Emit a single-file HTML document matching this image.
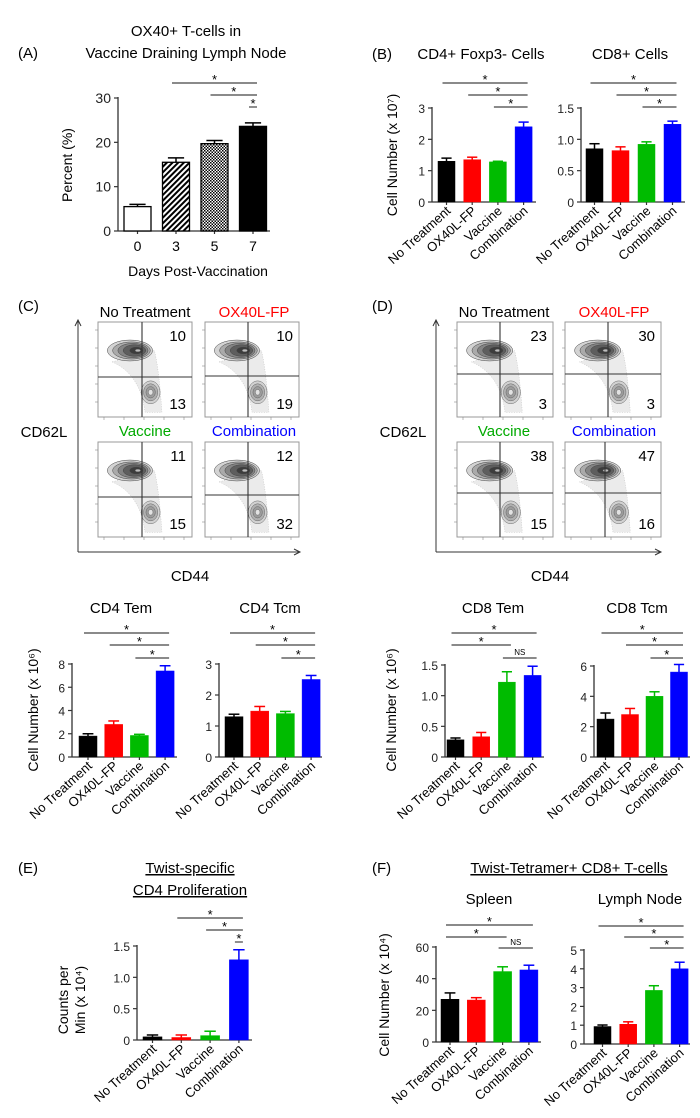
<!DOCTYPE html>
<html><head><meta charset="utf-8"><style>
html,body{margin:0;padding:0;background:#fff;}
svg{display:block;font-family:"Liberation Sans",sans-serif;}
</style></head><body>
<svg id="fig" width="700" height="1118" viewBox="0 0 700 1118" xmlns="http://www.w3.org/2000/svg">
<defs>
<pattern id="hatch" width="4" height="4" patternUnits="userSpaceOnUse" patternTransform="rotate(45)"><rect width="4" height="4" fill="#fff"/><rect width="2" height="4" fill="#000"/></pattern>
<pattern id="check" width="3" height="3" patternUnits="userSpaceOnUse"><rect width="3" height="3" fill="#fff"/><rect width="1.5" height="1.5" fill="#000"/><rect x="1.5" y="1.5" width="1.5" height="1.5" fill="#000"/></pattern>
</defs>
<g id="root"></g>
</svg>
<script>
// ---------- data ----------
const groups = ["No Treatment","OX40L-FP","Vaccine","Combination"];
const groupColors = ["#000","#f00","#0b0","#00f"];
const daysCats = ["0","3","5","7"];
const aVals = [5.5,15.5,19.7,23.6];
const aErr = [0.5,1.0,0.7,0.8];
const aTicks = [0,10,20,30];
const b1Vals = [1.3,1.35,1.28,2.4];
const b1Err = [0.1,0.08,0.02,0.15];
const b1Ticks = [0,1,2,3];
const b2Vals = [0.85,0.82,0.92,1.24];
const b2Err = [0.08,0.06,0.04,0.05];
const b2Ticks = [0,0.5,1.0,1.5];
const b2TickLabels = ["0","0.5","1.0","1.5"];
const cd4TemVals = [1.8,2.8,1.85,7.4];
const cd4TemErr = [0.2,0.3,0.1,0.45];
const cd4TemTicks = [0,2,4,6,8];
const cd4TcmVals = [1.3,1.48,1.4,2.5];
const cd4TcmErr = [0.08,0.15,0.07,0.13];
const cd4TcmTicks = [0,1,2,3];
const cd8TemVals = [0.28,0.33,1.22,1.33];
const cd8TemErr = [0.03,0.07,0.17,0.15];
const cd8TemTicks = [0,0.5,1.0,1.5];
const cd8TemTickLabels = ["0","0.5","1.0","1.5"];
const cd8TcmVals = [2.5,2.8,4.0,5.6];
const cd8TcmErr = [0.4,0.4,0.3,0.5];
const cd8TcmTicks = [0,2,4,6];
const eVals = [0.05,0.04,0.07,1.28];
const eErr = [0.03,0.04,0.07,0.16];
const eTicks = [0,0.5,1.0,1.5];
const eTickLabels = ["0","0.5","1.0","1.5"];
const spleenVals = [27,26.5,44.5,45.5];
const spleenErr = [4,1.5,3,3];
const spleenTicks = [0,20,40,60];
const lnVals = [0.93,1.05,2.85,4.0];
const lnErr = [0.08,0.13,0.25,0.35];
const lnTicks = [0,1,2,3,4,5];
const flowC = [["10","13"],["10","19"],["11","15"],["12","32"]];
const flowD = [["23","3"],["30","3"],["38","15"],["47","16"]];

// ---------- helpers ----------
const NS="http://www.w3.org/2000/svg";
const root=document.getElementById('root');
function el(tag,attrs,parent,text){
  const e=document.createElementNS(NS,tag);
  for(const k in attrs) e.setAttribute(k,attrs[k]);
  if(text!==undefined) e.textContent=text;
  (parent||root).appendChild(e);
  return e;
}
function txt(x,y,s,size,opts,name){
  const t=el('text',Object.assign({x:x,y:y,'font-size':size,fill:'#000','text-anchor':'middle'},opts||{}),null,s);
  
  
  return t;
}

function barChart(c){
  const g=el('g',{});
  
  
  const maxT=c.ticks[c.ticks.length-1];
  const yS=v=>c.y0-(v/maxT)*(c.y0-c.yTop);
  const xC=i=>c.x0+i*c.step+c.bw/2;
  el('line',{x1:c.ax,y1:yS(maxT)-1,x2:c.ax,y2:c.y0,stroke:'#333','stroke-width':1.3},g);
  c.ticks.forEach((t,i)=>{
    el('line',{x1:c.ax-4,y1:yS(t),x2:c.ax,y2:yS(t),stroke:'#333','stroke-width':1.2},g);
    const lab=el('text',{x:c.ax-7,y:yS(t)+5,'font-size':c.tfs||13,'text-anchor':'end',fill:'#222'},g,c.tickLabels?c.tickLabels[i]:String(t));
    
    
  });
  el('line',{x1:c.ax,y1:c.y0,x2:c.xEnd,y2:c.y0,stroke:'#333','stroke-width':1.3},g);
  c.vals.forEach((v,i)=>{
    const x=c.x0+i*c.step, top=yS(v), col=c.colors[i];
    el('line',{x1:xC(i),y1:c.y0,x2:xC(i),y2:c.y0+3,stroke:'#333','stroke-width':1.2},g);
    const et=yS(v+c.errs[i]);
    el('line',{x1:xC(i),y1:top,x2:xC(i),y2:et,stroke:c.errColor?c.errColor:col,'stroke-width':1.5},g);
    el('line',{x1:xC(i)-c.bw*0.3,y1:et,x2:xC(i)+c.bw*0.3,y2:et,stroke:c.errColor?c.errColor:col,'stroke-width':1.5},g);
    const r=el('rect',{x:x,y:top,width:c.bw,height:c.y0-top,fill:c.fills?c.fills[i]:col,stroke:c.fills?'#000':col,'stroke-width':c.fills?1.3:0.5},g);
    
    
    let lab;
    if(c.rot){
      lab=el('text',{x:xC(i)+5,y:c.y0+10,'font-size':13,'text-anchor':'end',fill:'#000',transform:`rotate(-42 ${xC(i)+5} ${c.y0+10})`},g,c.cats[i]);
    }else{
      lab=el('text',{x:xC(i),y:c.y0+20,'font-size':14,'text-anchor':'middle',fill:'#000'},g,c.cats[i]);
    }
    
    
  });
  (c.sig||[]).forEach(s=>{
    const a=xC(s[0])-4, b=xC(s[1])+4;
    const ln=el('line',{x1:a,y1:s[2],x2:b,y2:s[2],stroke:'#444','stroke-width':1.2},g);
    
    
    const st=el('text',{x:(a+b)/2,y:s[2]-(s[3]==='NS'?3:-1),'font-size':s[3]==='NS'?8:13,'text-anchor':'middle',fill:'#000'},g,s[3]);
    
    
  });
}

function ylabel(x,y,lines,name){
  const t=el('text',{x:0,y:0,'font-size':14,'text-anchor':'middle',fill:'#000',transform:`translate(${x} ${y}) rotate(-90)`});
  
  
  lines.forEach((l,i)=>{ el('tspan',{x:0,dy:i?17:0},t,l); });
  return t;
}

function flowBox(x0,y0,w,h,qx,qy,nums,name){
  const g=el('g',{});
  
  
  el('rect',{x:x0,y:y0,width:w,height:h,fill:'#fff',stroke:'#999','stroke-width':1},g);
  // scatter haze / tail
  el('path',{d:`M${x0+w*0.15} ${y0+h*0.42} Q${x0+w*0.45} ${y0+h*0.55} ${x0+w*0.5} ${y0+h*0.95} L${x0+w*0.68} ${y0+h*0.95} Q${x0+w*0.65} ${y0+h*0.5} ${x0+w*0.6} ${y0+h*0.3} Z`,fill:'#ddd','fill-opacity':0.6,stroke:'#bbb','stroke-width':0.5,'stroke-dasharray':'1 1.5'},g);
  const ux=x0+w*0.34, uy=y0+h*0.3;
  [[0.24,0.11,'#c8c8c8'],[0.2,0.09,'#a0a0a0'],[0.16,0.075,'#7a7a7a'],[0.12,0.06,'#555'],[0.07,0.035,'#333'],[0.03,0.015,'#ddd']].forEach(p=>{
    el('ellipse',{cx:ux+(0.24-p[0])*w*0.4,cy:uy,rx:w*p[0],ry:h*p[1],fill:p[2],'fill-opacity':0.8,stroke:'#444','stroke-width':0.5},g);
  });
  const lx=x0+w*0.56, ly=y0+h*0.74;
  [[0.1,0.12,'#ccc'],[0.075,0.09,'#aaa'],[0.05,0.06,'#999'],[0.025,0.03,'#eee']].forEach(p=>{
    el('ellipse',{cx:lx,cy:ly,rx:w*p[0],ry:h*p[1],fill:p[2],'fill-opacity':0.85,stroke:'#666','stroke-width':0.5},g);
  });
  el('line',{x1:qx,y1:y0,x2:qx,y2:y0+h,stroke:'#333','stroke-width':1.1},g);
  el('line',{x1:x0,y1:qy,x2:x0+w,y2:qy,stroke:'#333','stroke-width':1.1},g);
  const n1=el('text',{x:x0+w-6,y:y0+19,'font-size':15,'text-anchor':'end',fill:'#000'},g,nums[0]);
  
  
  const n2=el('text',{x:x0+w-6,y:y0+h-8,'font-size':15,'text-anchor':'end',fill:'#000'},g,nums[1]);
  
  
  for(let k=0;k<5;k++) el('line',{x1:x0-3,y1:y0+8+k*18,x2:x0,y2:y0+8+k*18,stroke:'#888','stroke-width':0.6},g);
  for(let k=0;k<5;k++) el('line',{x1:x0+6+k*20,y1:y0+h,x2:x0+6+k*20,y2:y0+h+3,stroke:'#888','stroke-width':0.6},g);
}

function arrows(ax,top,bottom,right,name){
  const g=el('g',{});
  
  
  el('line',{x1:ax,y1:top,x2:ax,y2:bottom,stroke:'#333','stroke-width':1},g);
  el('line',{x1:ax,y1:bottom,x2:right,y2:bottom,stroke:'#333','stroke-width':1},g);
  el('path',{d:`M${ax-3} ${top+6} L${ax} ${top} L${ax+3} ${top+6}`,fill:'none',stroke:'#333','stroke-width':1},g);
  el('path',{d:`M${right-6} ${bottom-3} L${right} ${bottom} L${right-6} ${bottom+3}`,fill:'none',stroke:'#333','stroke-width':1},g);
}

// ---------- Panel A ----------
txt(18,58,"(A)",15,{'text-anchor':'start'},'panel-label-a');
txt(186,36,"OX40+ T-cells in",15,{},'chart-title-a-line1');
txt(186,58,"Vaccine Draining Lymph Node",15,{},'chart-title-a-line2');
barChart({name:'chart-a',cats:daysCats,vals:aVals,errs:aErr,ticks:aTicks,colors:['#000','#000','#000','#000'],
  fills:['#fff','url(#hatch)','url(#check)','#000'],errColor:'#000',
  ax:118,y0:231,yTop:98,x0:124,step:38.5,bw:27,xEnd:270,tfs:14,rot:false,
  sig:[[1,3,83,'*'],[2,3,95,'*'],[3,3,107,'*']]});
ylabel(72,165,["Percent (%)"],'y-axis-title-a');
txt(198,276,"Days Post-Vaccination",14,{},'x-axis-title-a');

// ---------- Panel B ----------
txt(372,59,"(B)",15,{'text-anchor':'start'},'panel-label-b');
txt(481,59,"CD4+ Foxp3- Cells",15,{},'chart-title-cd4-foxp3');
txt(630,59,"CD8+ Cells",15,{},'chart-title-cd8');
barChart({name:'chart-b-cd4',cats:groups,vals:b1Vals,errs:b1Err,ticks:b1Ticks,colors:groupColors,
  ax:432,y0:202,yTop:108,x0:438,step:25.7,bw:17,xEnd:536,tfs:12,rot:true,
  sig:[[0,3,83,'*'],[1,3,95,'*'],[2,3,107,'*']]});
barChart({name:'chart-b-cd8',cats:groups,vals:b2Vals,errs:b2Err,ticks:b2Ticks,tickLabels:b2TickLabels,colors:groupColors,
  ax:581,y0:202,yTop:108,x0:586,step:26,bw:17,xEnd:685,tfs:12,rot:true,
  sig:[[0,3,83,'*'],[1,3,95,'*'],[2,3,107,'*']]});
ylabel(397,155,["Cell Number (x 10\u2077)"],'y-axis-title-b');

// ---------- Panel C ----------
txt(18,311,"(C)",15,{'text-anchor':'start'},'panel-label-c');
txt(145,317,"No Treatment",15,{},'flow-title-no-treatment');
txt(254,317,"OX40L-FP",15,{fill:'#f00'},'flow-title-ox40l');
txt(145,436,"Vaccine",15,{fill:'#0a0'},'flow-title-vaccine');
txt(254,436,"Combination",15,{fill:'#00f'},'flow-title-combination');
arrows(78,320,552,300,'flow-axes-c');
flowBox(98,322,94,95,142,377,flowC[0],'flow-plot-c-no-treatment');
flowBox(205,322,94,95,248,376,flowC[1],'flow-plot-c-ox40l');
flowBox(98,442,94,95,142,497,flowC[2],'flow-plot-c-vaccine');
flowBox(205,442,94,95,248,495,flowC[3],'flow-plot-c-combination');
txt(44,437,"CD62L",15,{},'flow-y-label-c');
txt(190,581,"CD44",15,{},'flow-x-label-c');

// ---------- Panel D ----------
txt(372,311,"(D)",15,{'text-anchor':'start'},'panel-label-d');
txt(504,317,"No Treatment",15,{},'flow-title-no-treatment-d');
txt(614,317,"OX40L-FP",15,{fill:'#f00'},'flow-title-ox40l-d');
txt(504,436,"Vaccine",15,{fill:'#0a0'},'flow-title-vaccine-d');
txt(614,436,"Combination",15,{fill:'#00f'},'flow-title-combination-d');
arrows(436,320,552,661,'flow-axes-d');
flowBox(457,322,96,95,500,374,flowD[0],'flow-plot-d-no-treatment');
flowBox(565,322,96,95,608,374,flowD[1],'flow-plot-d-ox40l');
flowBox(457,442,96,95,500,493,flowD[2],'flow-plot-d-vaccine');
flowBox(565,442,96,95,605,493,flowD[3],'flow-plot-d-combination');
txt(403,437,"CD62L",15,{},'flow-y-label-d');
txt(550,581,"CD44",15,{},'flow-x-label-d');

// ---------- Row 3 ----------
txt(121,613,"CD4 Tem",15,{},'chart-title-cd4-tem');
txt(270,613,"CD4 Tcm",15,{},'chart-title-cd4-tcm');
txt(493,613,"CD8 Tem",15,{},'chart-title-cd8-tem');
txt(637,613,"CD8 Tcm",15,{},'chart-title-cd8-tcm');
barChart({name:'chart-cd4-tem',cats:groups,vals:cd4TemVals,errs:cd4TemErr,ticks:cd4TemTicks,colors:groupColors,
  ax:72,y0:757,yTop:664,x0:79,step:25.7,bw:18,xEnd:177,tfs:12,rot:true,
  sig:[[0,3,633,'*'],[1,3,645,'*'],[2,3,658,'*']]});
barChart({name:'chart-cd4-tcm',cats:groups,vals:cd4TcmVals,errs:cd4TcmErr,ticks:cd4TcmTicks,colors:groupColors,
  ax:219,y0:757,yTop:664,x0:225,step:25.7,bw:18,xEnd:322,tfs:12,rot:true,
  sig:[[0,3,633,'*'],[1,3,645,'*'],[2,3,658,'*']]});
barChart({name:'chart-cd8-tem',cats:groups,vals:cd8TemVals,errs:cd8TemErr,ticks:cd8TemTicks,tickLabels:cd8TemTickLabels,colors:groupColors,
  ax:445,y0:757,yTop:665,x0:447,step:25.7,bw:17,xEnd:544,tfs:12,rot:true,
  sig:[[0,3,633,'*'],[0,2,645,'*'],[2,3,658,'NS']]});
barChart({name:'chart-cd8-tcm',cats:groups,vals:cd8TcmVals,errs:cd8TcmErr,ticks:cd8TcmTicks,colors:groupColors,
  ax:594,y0:757,yTop:666,x0:597,step:24.5,bw:17,xEnd:690,tfs:12,rot:true,
  sig:[[0,3,633,'*'],[1,3,645,'*'],[2,3,658,'*']]});
ylabel(38,710,["Cell Number (x 10\u2076)"],'y-axis-title-cd4');
ylabel(396,710,["Cell Number (x 10\u2076)"],'y-axis-title-cd8');

// ---------- Panel E ----------
txt(18,873,"(E)",15,{'text-anchor':'start'},'panel-label-e');
txt(190,873,"Twist-specific",15,{'text-decoration':'underline'},'chart-title-e-line1');
txt(190,895,"CD4 Proliferation",15,{'text-decoration':'underline'},'chart-title-e-line2');
barChart({name:'chart-e',cats:groups,vals:eVals,errs:eErr,ticks:eTicks,tickLabels:eTickLabels,colors:groupColors,
  ax:137,y0:1040,yTop:946,x0:143,step:28.8,bw:19,xEnd:252,tfs:12,rot:true,
  sig:[[1,3,918,'*'],[2,3,930,'*'],[3,3,942,'*']]});
ylabel(68,1000,["Counts per","Min (x 10\u2074)"],'y-axis-title-e');

// ---------- Panel F ----------
txt(372,873,"(F)",15,{'text-anchor':'start'},'panel-label-f');
txt(569,873,"Twist-Tetramer+ CD8+ T-cells",15,{'text-decoration':'underline'},'chart-title-f');
txt(489,904,"Spleen",15,{},'chart-title-spleen');
txt(640,904,"Lymph Node",15,{},'chart-title-lymph-node');
barChart({name:'chart-f-spleen',cats:groups,vals:spleenVals,errs:spleenErr,ticks:spleenTicks,colors:groupColors,
  ax:436,y0:1042,yTop:947,x0:441,step:26.3,bw:18,xEnd:541,tfs:12,rot:true,
  sig:[[0,3,925,'*'],[0,2,937,'*'],[2,3,948,'NS']]});
barChart({name:'chart-f-lymph-node',cats:groups,vals:lnVals,errs:lnErr,ticks:lnTicks,colors:groupColors,
  ax:584,y0:1044,yTop:950,x0:594,step:25.7,bw:17,xEnd:690,tfs:12,rot:true,
  sig:[[0,3,926,'*'],[1,3,937,'*'],[2,3,948,'*']]});
ylabel(389,995,["Cell Number (x 10\u2074)"],'y-axis-title-f');
</script>
</body></html>
